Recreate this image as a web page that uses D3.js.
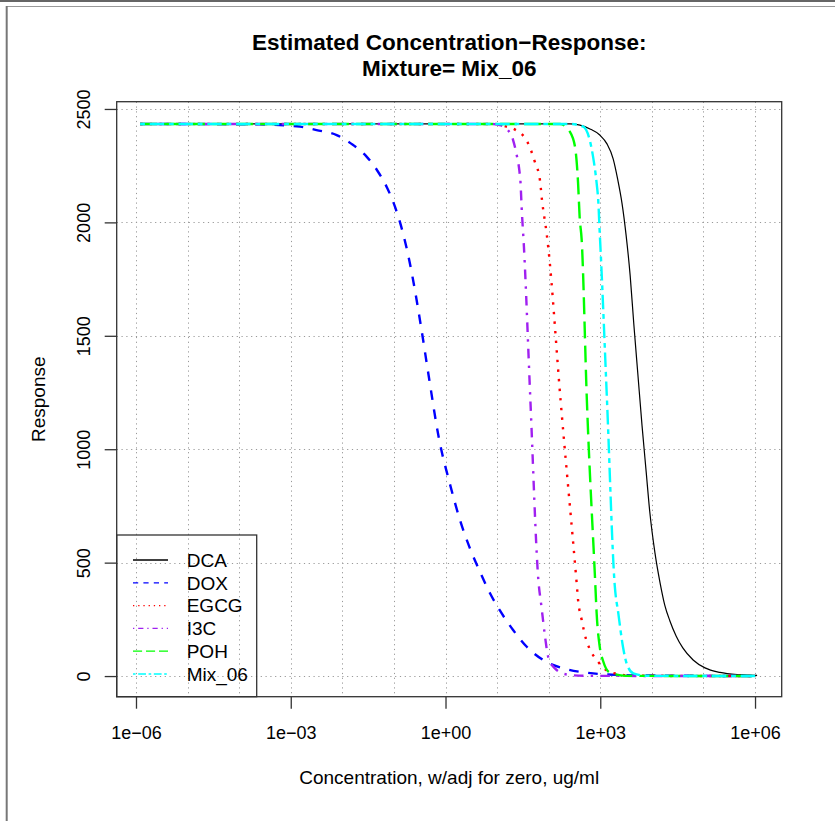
<!DOCTYPE html>
<html>
<head>
<meta charset="utf-8">
<script src="https://cdn.jsdelivr.net/npm/d3@7"></script>
<style>
  body { margin: 0; background: #fff; }
  svg { display: block; }
</style>
</head>
<body>
<svg width="835" height="821"></svg>
<script>
// series names, legend order
const seriesNames = ["DCA", "DOX", "EGCG", "I3C", "POH", "Mix_06"];

// log10(concentration) and response pairs
const dcaLogConc = [-5.92, 2.41, 2.8, 2.99, 3.13, 3.25, 3.34, 3.42, 3.5, 3.58, 3.65, 3.73, 3.81, 3.89, 3.96, 4.06, 4.16, 4.25, 4.35, 4.47, 4.6, 4.8, 5.03, 5.32, 5.71, 6.04];
const dcaResp = [2434, 2434, 2412, 2385, 2346, 2280, 2187, 2086, 1945, 1764, 1552, 1327, 1103, 900, 723, 543, 410, 313, 243, 177, 124, 71, 36, 16, 6, 3];

const doxLogConc = [-5.92, -3.6, -2.82, -2.5, -2.11, -1.79, -1.53, -1.33, -1.135, -0.98, -0.825, -0.708, -0.592, -0.476, -0.321, -0.127, 0.09, 0.28, 0.47, 0.67, 0.86, 1.06, 1.31, 1.58, 1.89, 2.35, 2.74, 3.05, 3.77, 6.04];
const doxResp = [2434, 2432, 2422, 2407, 2385, 2341, 2290, 2231, 2154, 2069, 1953, 1839, 1700, 1542, 1316, 1047, 843, 688, 565, 459, 366, 287, 203, 128, 71, 30, 15, 8, 3, 0];

const egcgLogConc = [-5.92, 0.96, 1.18, 1.34, 1.6, 1.73, 1.83, 1.87, 1.96, 1.99, 2.23, 2.54, 2.57, 2.64, 2.72, 2.79, 2.93, 3.12, 3.28, 3.6, 6.04];
const egcgResp = [2434, 2434, 2422, 2410, 2349, 2268, 2187, 2099, 1952, 1893, 1217, 416, 335, 247, 166, 122, 71, 26, 12, 2, 0];

const i3cLogConc = [-5.92, 0.86, 1.05, 1.21, 1.31, 1.38, 1.43, 1.455, 1.475, 1.52, 1.645, 1.8, 1.86, 1.93, 1.99, 2.12, 2.35, 2.7, 6.04];
const i3cResp = [2434, 2434, 2429, 2407, 2363, 2297, 2231, 2172, 2069, 1893, 1217, 423, 306, 173, 85, 34, 7, 1, 0];

const pohLogConc = [-5.92, 2.22, 2.41, 2.51, 2.57, 2.6, 2.64, 2.74, 2.9, 2.93, 2.99, 3.06, 3.19, 3.5, 6.04];
const pohResp = [2434, 2434, 2400, 2334, 2172, 2025, 1922, 1217, 423, 276, 129, 63, 15, 1, 0];

const mixLogConc = [-5.92, 2.4, 2.67, 2.86, 2.93, 2.96, 2.99, 3.006, 3.13, 3.28, 3.35, 3.44, 3.51, 3.64, 3.9, 6.04];
const mixResp = [2434, 2434, 2422, 2290, 2172, 2099, 1952, 1878, 1217, 401, 276, 129, 56, 12, 1, 0];

const xTicks = [1e-6, 1e-3, 1, 1e3, 1e6];
const xTickLabels = ["1e\u221206", "1e\u221203", "1e+00", "1e+03", "1e+06"];
const yTicks = [0, 500, 1000, 1500, 2000, 2500];

// styles (R colours / lty)
const seriesColors = ["#000000", "#0000ff", "#ff0000", "#a020f0", "#00ff00", "#00ffff"];
const seriesLty = [null, [4, 4], [1, 3], [1, 3, 4, 3], [7, 3], [2, 2, 6, 2]];

const plotLeft = 116.7, plotRight = 781.7, plotTop = 101.7, plotBottom = 696.7;
const font = "'Liberation Sans', Arial, Helvetica, sans-serif";

const svg = d3.select("svg").attr("font-family", font);

// window frame
svg.append("line").attr("x1", 0).attr("x2", 835).attr("y1", 1).attr("y2", 1)
  .attr("stroke", "#666").attr("stroke-width", 2);
svg.append("line").attr("x1", 6.5).attr("x2", 835).attr("y1", 6.5).attr("y2", 6.5)
  .attr("stroke", "#999").attr("stroke-width", 1);
svg.append("line").attr("x1", 6.7).attr("x2", 6.7).attr("y1", 6).attr("y2", 821)
  .attr("stroke", "#777").attr("stroke-width", 2);

const x = d3.scaleLog()
  .domain([Math.pow(10, -6.374), Math.pow(10, 6.517)])
  .range([plotLeft, plotRight]);

const y = d3.scaleLinear()
  .domain([-91, 2532])
  .range([plotBottom, plotTop]);

// grid (dotted, lightgray)
const decades = x.ticks().filter((d) => Math.abs(Math.log10(d) - Math.round(Math.log10(d))) < 1e-9);
const grid = svg.append("g")
  .attr("stroke", "#999")
  .attr("stroke-width", 1)
  .attr("stroke-dasharray", "1.2,3.6");
grid.selectAll("line.v")
  .data(decades)
  .join("line")
  .attr("class", "v")
  .attr("x1", (d) => Math.round(x(d)) + 0.5)
  .attr("x2", (d) => Math.round(x(d)) + 0.5)
  .attr("y1", plotTop)
  .attr("y2", plotBottom);
grid.selectAll("line.h")
  .data(yTicks)
  .join("line")
  .attr("class", "h")
  .attr("x1", plotLeft)
  .attr("x2", plotRight)
  .attr("y1", (d) => Math.round(y(d)) + 0.5)
  .attr("y2", (d) => Math.round(y(d)) + 0.5);

// curves
const curveData = [
  [dcaLogConc, dcaResp],
  [doxLogConc, doxResp],
  [egcgLogConc, egcgResp],
  [i3cLogConc, i3cResp],
  [pohLogConc, pohResp],
  [mixLogConc, mixResp],
].map(([lc, r], i) => ({
  name: seriesNames[i],
  values: lc.map((e, j) => ({ conc: Math.pow(10, e), resp: r[j] })),
}));

const line = d3.line()
  .x((d) => x(d.conc))
  .y((d) => y(d.resp))
  .curve(d3.curveMonotoneX);

const curveLwd = 2.4;
svg.append("g")
  .attr("fill", "none")
  .selectAll("path")
  .data(curveData)
  .join("path")
  .attr("d", (d) => line(d.values))
  .attr("stroke", (d, i) => seriesColors[i])
  .attr("stroke-width", (d, i) => (i == 0 ? 1.2 : curveLwd))
  .attr("stroke-dasharray", (d, i) =>
    seriesLty[i] ? seriesLty[i].map((v) => v * curveLwd).join(",") : null);

// box
svg.append("rect")
  .attr("x", plotLeft)
  .attr("y", plotTop)
  .attr("width", plotRight - plotLeft)
  .attr("height", plotBottom - plotTop)
  .attr("fill", "none")
  .attr("stroke", "#333")
  .attr("stroke-width", 1.3);

// x axis
const xAxis = svg.append("g")
  .attr("transform", `translate(0, ${plotBottom})`)
  .call(d3.axisBottom(x)
    .tickValues(xTicks)
    .tickFormat((d, i) => xTickLabels[i])
    .tickSize(12)
    .tickSizeOuter(0));
xAxis.select(".domain").remove();
xAxis.selectAll(".tick line").attr("stroke", "#333").attr("stroke-width", 1.3);
xAxis.selectAll(".tick text")
  .attr("y", 42.5)
  .attr("dy", null)
  .attr("fill", "#000")
  .attr("font-family", font)
  .attr("font-size", 18);

// y axis
const yAxis = svg.append("g")
  .attr("transform", `translate(${plotLeft}, 0)`)
  .call(d3.axisLeft(y)
    .tickValues(yTicks)
    .tickFormat(d3.format("d"))
    .tickSize(12)
    .tickSizeOuter(0));
yAxis.select(".domain").remove();
yAxis.selectAll(".tick line").attr("stroke", "#333").attr("stroke-width", 1.3);
yAxis.selectAll(".tick text")
  .attr("x", null)
  .attr("dy", null)
  .attr("text-anchor", "middle")
  .attr("transform", "translate(-26.7, 0) rotate(-90)")
  .attr("fill", "#000")
  .attr("font-family", font)
  .attr("font-size", 18);

// axis titles
svg.append("text")
  .attr("x", (plotLeft + plotRight) / 2)
  .attr("y", 784)
  .attr("text-anchor", "middle")
  .attr("font-size", 19)
  .text("Concentration, w/adj for zero, ug/ml");

svg.append("text")
  .attr("transform", `translate(45, ${(plotTop + plotBottom) / 2}) rotate(-90)`)
  .attr("text-anchor", "middle")
  .attr("font-size", 19)
  .text("Response");

// title
const title = svg.append("text")
  .attr("x", (plotLeft + plotRight) / 2)
  .attr("text-anchor", "middle")
  .attr("font-size", 22.5)
  .attr("font-weight", "bold");
title.append("tspan").attr("x", (plotLeft + plotRight) / 2).attr("y", 50)
  .text("Estimated Concentration\u2212Response:");
title.append("tspan").attr("x", (plotLeft + plotRight) / 2).attr("y", 76)
  .text("Mixture= Mix_06");

// legend (bottomleft, no fill)
const legendTop = 535;
const legendRowH = 22.8;
const legend = svg.append("g");
legend.append("rect")
  .attr("x", plotLeft)
  .attr("y", legendTop)
  .attr("width", 140)
  .attr("height", plotBottom - legendTop)
  .attr("fill", "none")
  .attr("stroke", "#333")
  .attr("stroke-width", 1.3);

const legendLwd = 1.3;
const rows = legend.selectAll("g.row")
  .data(seriesNames)
  .join("g")
  .attr("class", "row")
  .attr("transform", (d, i) => `translate(0, ${legendTop + 25 + i * legendRowH})`);
rows.append("line")
  .attr("x1", 133)
  .attr("x2", 168)
  .attr("stroke", (d, i) => seriesColors[i])
  .attr("stroke-width", legendLwd)
  .attr("stroke-dasharray", (d, i) =>
    seriesLty[i] ? seriesLty[i].map((v) => v * legendLwd).join(",") : null);
rows.append("text")
  .attr("x", 186.7)
  .attr("y", 6.8)
  .attr("font-size", 19)
  .text((d) => d);
</script>
</body>
</html>
